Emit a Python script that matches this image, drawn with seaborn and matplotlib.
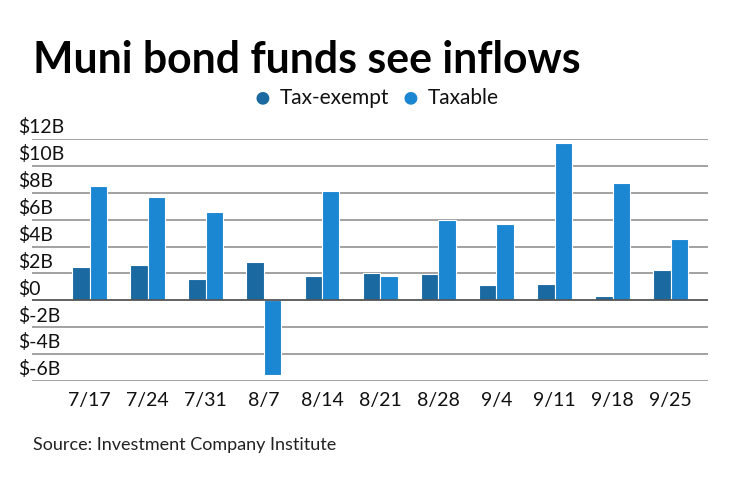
import pandas as pd
import matplotlib.pyplot as plt
import seaborn as sns

weeks = ["7/17", "7/24", "7/31", "8/7", "8/14", "8/21", "8/28", "9/4", "9/11", "9/18", "9/25"]
tax_exempt = [2.49, 2.66, 1.62, 2.84, 1.84, 2.01, 1.94, 1.17, 1.24, 0.35, 2.26]
taxable = [8.51, 7.66, 6.54, -5.52, 8.11, 1.84, 5.97, 5.65, 11.69, 8.76, 4.55]
y_ticks = [12, 10, 8, 6, 4, 2, 0, -2, -4, -6]

df = pd.DataFrame({
    "week": weeks * 2,
    "flow": tax_exempt + taxable,
    "type": ["Tax-exempt"] * len(weeks) + ["Taxable"] * len(weeks),
})
colors = {"Tax-exempt": "#1a69a1", "Taxable": "#1b86d1"}

sns.set_style("white")
plt.rcParams["font.family"] = ["Lato", "DejaVu Sans"]

fig = plt.figure(figsize=(7.4, 4.82), dpi=100)
ax = fig.add_axes([32 / 740, 1 - 381 / 482, 676 / 740, 242 / 482])

sns.barplot(data=df, x="week", y="flow", hue="type", palette=colors, width=0.6,
            edgecolor="white", linewidth=0.8, saturation=1, legend=False, ax=ax, zorder=3)

ax.set_ylim(-6, 12)
ax.set_xlim(-0.99, 10.64)
for t in y_ticks:
    ax.axhline(t, color="#555555" if t == 0 else "#9a9a9a", lw=1.3, zorder=1 if t else 4)
    label = "$0" if t == 0 else f"${t}B"
    ax.text(-0.021, t + 0.2, label, transform=ax.get_yaxis_transform(),
            ha="left", va="bottom", fontsize=14, color="#111111")

ax.set_yticks([])
ax.set_xlabel("")
ax.set_ylabel("")
ax.tick_params(axis="x", length=0, labelsize=14, pad=8, colors="#111111")
sns.despine(ax=ax, left=True, bottom=True, top=True, right=True)

fig.text(33 / 740, 1 - 73 / 482, "Muni bond funds see inflows", fontsize=30.8,
         fontweight="bold", ha="left", va="baseline", color="#000000")

# legend
fig.text(262 / 740, 1 - 98 / 482, "\u25cf", fontsize=19, color=colors["Tax-exempt"], ha="center", va="center")
fig.text(280 / 740, 1 - 98 / 482, "Tax-exempt", fontsize=15, ha="left", va="center", color="#111111")
fig.text(410 / 740, 1 - 98 / 482, "\u25cf", fontsize=19, color=colors["Taxable"], ha="center", va="center")
fig.text(428 / 740, 1 - 98 / 482, "Taxable", fontsize=15, ha="left", va="center", color="#111111")

fig.text(33 / 740, 1 - 445 / 482, "Source: Investment Company Institute", fontsize=13,
         ha="left", va="center", color="#222222")

fig.savefig("out.png", dpi=100)
